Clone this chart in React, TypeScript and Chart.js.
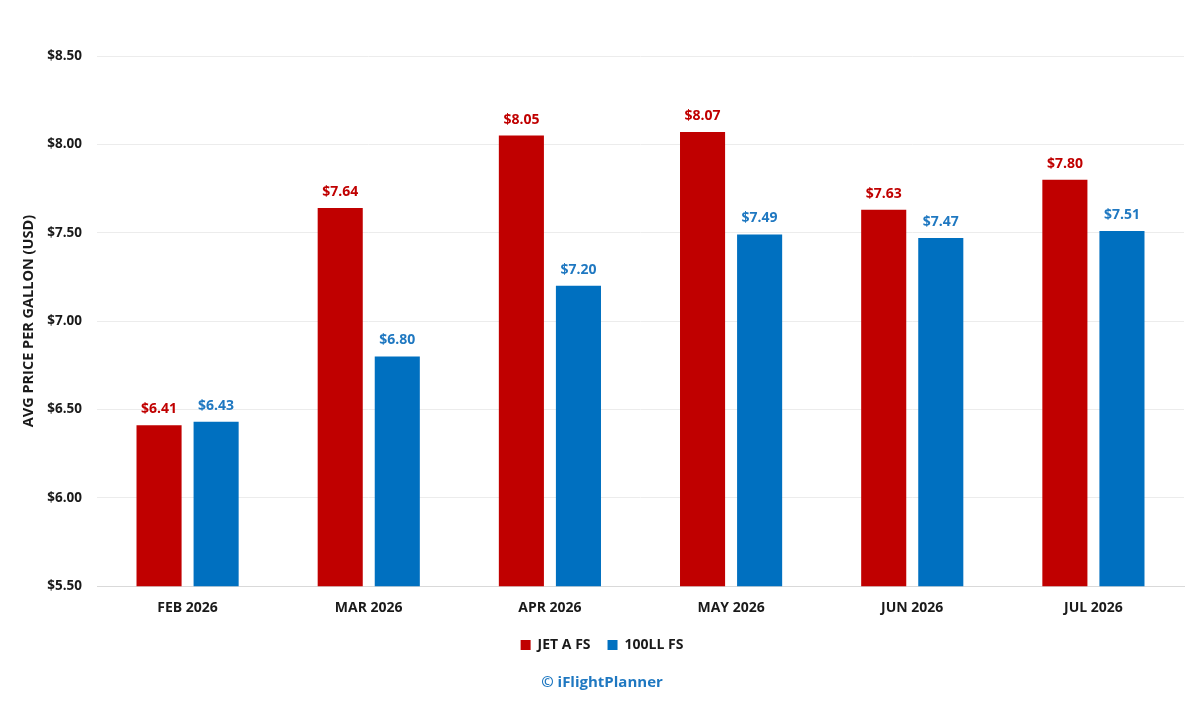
import React, { useEffect, useRef } from "react";
import { Chart, registerables } from "chart.js";

Chart.register(...registerables);

const categories = ["FEB 2026", "MAR 2026", "APR 2026", "MAY 2026", "JUN 2026", "JUL 2026"];
const jetA = [6.41, 7.64, 8.05, 8.07, 7.63, 7.8];
const ll100 = [6.43, 6.8, 7.2, 7.49, 7.47, 7.51];
const seriesNames = ["JET A FS", "100LL FS"];
const yMin = 5.5;
const yMax = 8.5;
const yStep = 0.5;
const yTitle = "AVG PRICE PER GALLON (USD)";
const credit = "© iFlightPlanner";

const RED = "#c00000";
const BLUE = "#0070c0";
const RED_LABEL = "#c00000";
const BLUE_LABEL = "#1f78c1";
const FONT = "'Open Sans', 'Noto Sans', sans-serif";

const valueLabels = {
  id: "valueLabels",
  afterDatasetsDraw(chart: any) {
    const ctx = chart.ctx;
    ctx.save();
    ctx.font = `bold 14px ${FONT}`;
    ctx.textAlign = "center";
    ctx.textBaseline = "bottom";
    chart.data.datasets.forEach((ds: any, i: number) => {
      const meta = chart.getDatasetMeta(i);
      ctx.fillStyle = i === 0 ? RED_LABEL : BLUE_LABEL;
      meta.data.forEach((bar: any, j: number) => {
        ctx.fillText("$" + Number(ds.data[j]).toFixed(2), bar.x, bar.y - 9);
      });
    });
    ctx.restore();
  },
};

export default function App() {
  const ref = useRef<HTMLCanvasElement>(null);
  useEffect(() => {
    if (!ref.current) return;
    const chart = new Chart(ref.current, {
      type: "bar",
      data: {
        labels: categories,
        datasets: [
          { label: seriesNames[0], data: jetA, backgroundColor: RED },
          { label: seriesNames[1], data: ll100, backgroundColor: BLUE },
        ],
      },
      options: {
        animation: false,
        responsive: true,
        maintainAspectRatio: false,
        layout: { padding: { left: 20, right: 16, top: 56, bottom: 16 } },
        datasets: {
          bar: { categoryPercentage: 0.63, barPercentage: 0.79 },
        } as any,
        scales: {
          x: {
            grid: { display: false },
            border: { display: true, color: "#d9d9d9", width: 1 },
            ticks: { color: "#1a1a1a", font: { family: FONT, size: 14, weight: "bold" }, padding: 5 },
          },
          y: {
            min: yMin,
            max: yMax,
            afterFit: (s: any) => {
              s.width = 77;
            },
            ticks: {
              stepSize: yStep,
              color: "#1a1a1a",
              font: { family: FONT, size: 13.5, weight: "bold" },
              padding: 15,
              callback: (v: any) => "$" + Number(v).toFixed(2),
            },
            grid: { color: "#ececec", drawTicks: false },
            border: { display: false },
            title: {
              display: true,
              text: yTitle,
              color: "#1a1a1a",
              font: { family: FONT, size: 14.5, weight: "bold" },
              padding: { top: 0, bottom: 8 },
            },
          },
        },
        plugins: {
          legend: {
            position: "bottom",
            labels: {
              boxWidth: 10,
              boxHeight: 10,
              color: "#1a1a1a",
              font: { family: FONT, size: 14, weight: "bold" },
              padding: 17,
            },
          },
          subtitle: {
            display: true,
            position: "bottom",
            text: credit,
            color: BLUE_LABEL,
            font: { family: FONT, size: 15, weight: "bold" },
            padding: { top: 12, bottom: 0 },
          },
          tooltip: { enabled: false },
        },
      },
      plugins: [valueLabels],
    });
    return () => chart.destroy();
  }, []);
  return (
    <div style={{ position: "fixed", left: 0, top: 0, width: 1200, height: 708, background: "#fff" }}>
      <canvas ref={ref} />
    </div>
  );
}
